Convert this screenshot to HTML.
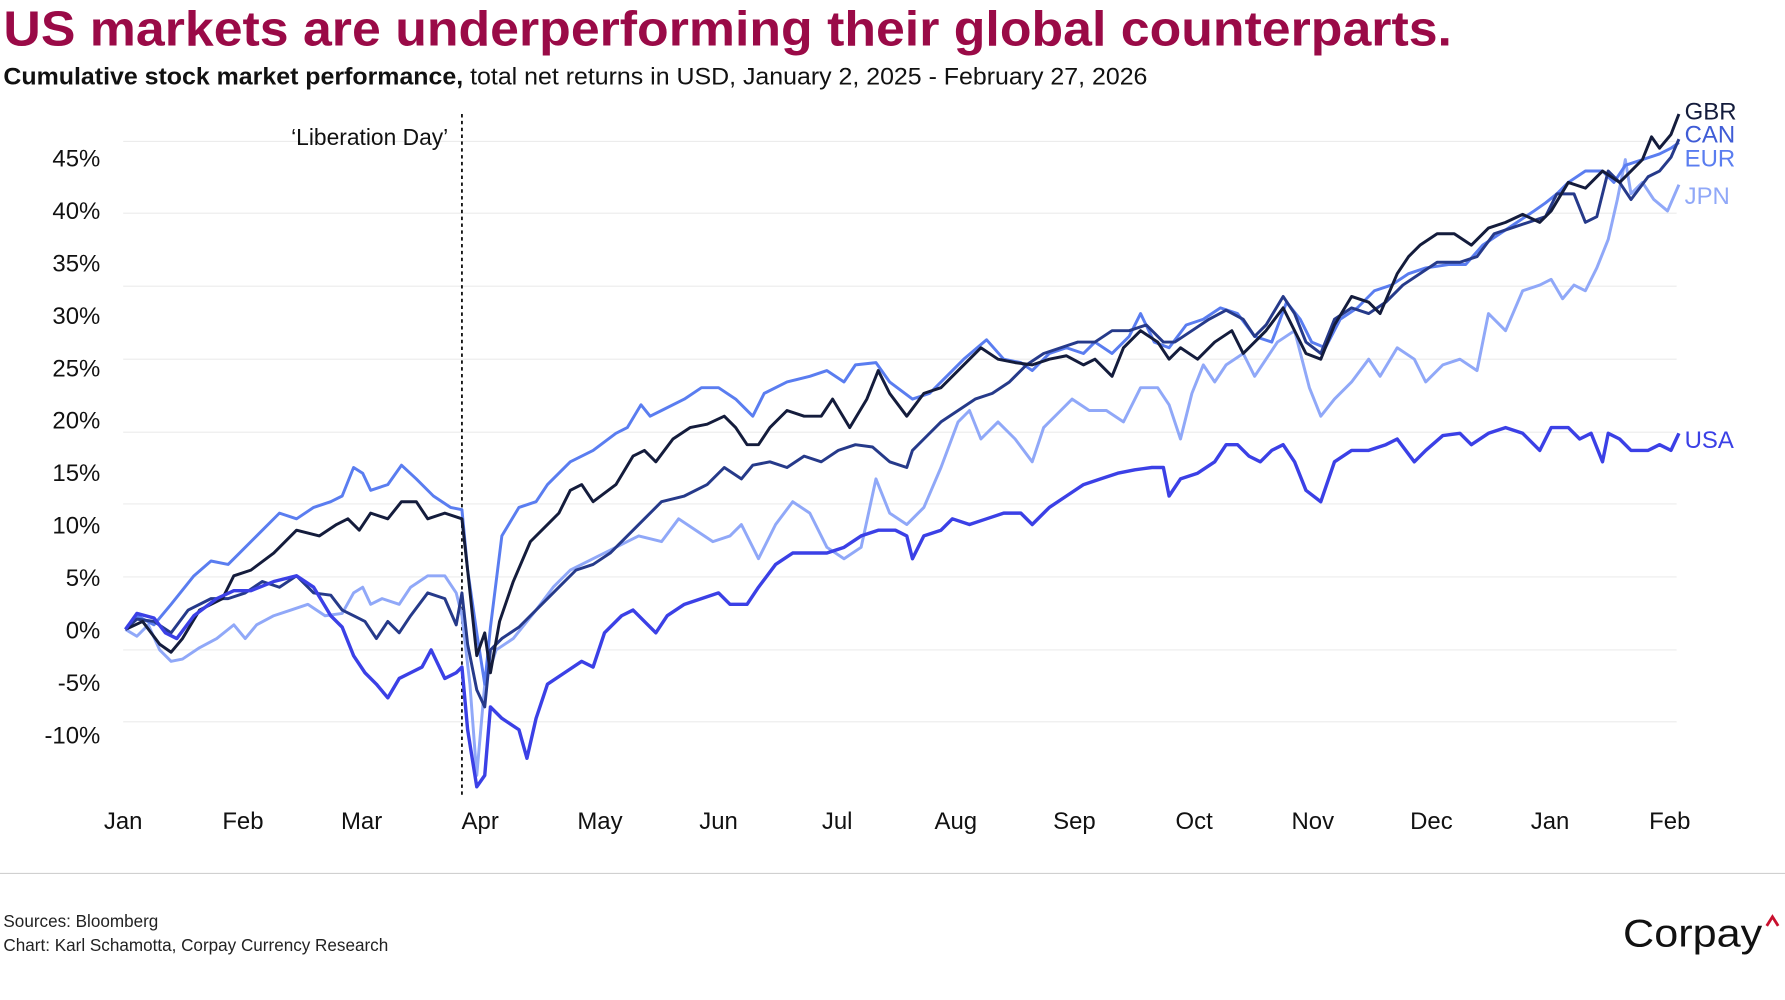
<!DOCTYPE html>
<html><head><meta charset="utf-8"><style>html,body{margin:0;padding:0;background:#fff}svg{display:block}</style></head>
<body>
<svg width="1785" height="1000" viewBox="0 0 1565 877" preserveAspectRatio="none" xmlns="http://www.w3.org/2000/svg" font-family="Liberation Sans, sans-serif">
<rect width="1565" height="877" fill="#fff"/>
<text x="3" y="40" font-size="43" font-weight="bold" fill="#9a0a47" textLength="1270" lengthAdjust="spacingAndGlyphs">US markets are underperforming their global counterparts.</text>
<text x="3" y="74" font-size="21" fill="#111" textLength="1003" lengthAdjust="spacingAndGlyphs"><tspan font-weight="bold">Cumulative stock market performance,</tspan> total net returns in USD, January 2, 2025 - February 27, 2026</text>
<g stroke="#ececec" stroke-width="1">
<line x1="108" x2="1470" y1="124" y2="124"/><line x1="108" x2="1470" y1="187" y2="187"/><line x1="108" x2="1470" y1="251" y2="251"/><line x1="108" x2="1470" y1="315" y2="315"/><line x1="108" x2="1470" y1="379" y2="379"/><line x1="108" x2="1470" y1="442" y2="442"/><line x1="108" x2="1470" y1="506" y2="506"/><line x1="108" x2="1470" y1="570" y2="570"/><line x1="108" x2="1470" y1="633" y2="633"/>
</g>
<g font-size="21" fill="#111" text-anchor="end">
<text x="88" y="146">45%</text><text x="88" y="192">40%</text><text x="88" y="238">35%</text><text x="88" y="284">30%</text><text x="88" y="330">25%</text><text x="88" y="376">20%</text><text x="88" y="422">15%</text><text x="88" y="468">10%</text><text x="88" y="514">5%</text><text x="88" y="560">0%</text><text x="88" y="606">-5%</text><text x="88" y="652">-10%</text>
</g>
<g font-size="21" fill="#111" text-anchor="middle">
<text x="108" y="727">Jan</text><text x="213" y="727">Feb</text><text x="317" y="727">Mar</text><text x="421" y="727">Apr</text><text x="526" y="727">May</text><text x="630" y="727">Jun</text><text x="734" y="727">Jul</text><text x="838" y="727">Aug</text><text x="942" y="727">Sep</text><text x="1047" y="727">Oct</text><text x="1151" y="727">Nov</text><text x="1255" y="727">Dec</text><text x="1359" y="727">Jan</text><text x="1464" y="727">Feb</text>
</g>
<line x1="405" x2="405" y1="100" y2="700" stroke="#111" stroke-width="1.6" stroke-dasharray="3,3"/>
<text x="393" y="127" font-size="20" fill="#111" text-anchor="end">‘Liberation Day’</text>
<g fill="none" stroke-width="2.6" stroke-linejoin="round">
<polyline stroke="#90a8f8" points="110,552 120,558 130,548 140,570 150,580 160,578 175,568 190,560 205,548 215,560 225,548 240,540 255,535 270,530 285,540 300,538 310,520 318,515 325,530 335,525 350,530 360,515 375,505 390,505 400,520 405,540 412,600 418,680 425,600 435,570 450,560 470,535 485,515 500,500 520,490 540,480 560,470 580,475 595,455 610,465 625,475 640,470 650,460 665,490 680,460 695,440 710,450 725,480 740,490 755,480 768,420 780,450 795,460 810,445 825,410 840,370 850,360 860,385 875,370 890,385 905,405 915,375 930,360 940,350 955,360 970,360 985,370 1000,340 1015,340 1025,355 1035,385 1045,345 1055,320 1065,335 1075,320 1090,310 1100,330 1110,315 1120,300 1135,290 1148,340 1158,365 1170,350 1185,335 1200,315 1210,330 1225,305 1240,315 1250,335 1265,320 1280,315 1295,325 1305,275 1320,290 1335,255 1350,250 1360,245 1370,262 1380,250 1390,255 1400,235 1410,210 1418,175 1425,140 1430,170 1440,160 1450,175 1462,185 1472,162"/>
<polyline stroke="#5a7df0" points="110,552 120,540 135,548 150,530 170,505 185,492 200,495 210,485 225,470 245,450 260,455 275,445 290,440 300,435 310,410 318,415 325,430 340,425 352,408 365,420 380,435 395,445 405,447 410,500 418,555 425,600 430,550 440,470 455,445 470,440 480,425 490,415 500,405 520,395 540,380 550,375 562,355 570,365 580,360 600,350 615,340 630,340 645,350 660,365 670,345 690,335 710,330 725,325 740,335 750,320 768,318 780,335 800,350 815,345 830,330 845,315 865,298 880,315 895,318 905,325 920,310 935,305 950,310 960,300 975,310 990,295 1000,275 1012,300 1025,305 1040,285 1055,280 1070,270 1085,275 1100,295 1115,300 1128,265 1140,280 1150,300 1162,305 1175,280 1190,270 1205,255 1220,250 1235,240 1250,235 1270,232 1285,232 1300,215 1315,205 1330,195 1345,185 1355,178 1365,170 1375,160 1390,150 1405,150 1415,160 1425,145 1440,140 1455,135 1465,130 1472,125"/>
<polyline stroke="#263a8a" points="110,552 120,543 135,545 150,555 165,535 185,525 200,525 215,520 230,510 245,515 260,505 275,520 290,522 300,535 310,540 320,545 330,560 340,545 350,555 360,540 375,520 390,525 400,548 405,520 410,565 418,605 425,620 430,570 440,560 455,550 470,535 490,515 505,500 520,495 535,485 550,470 565,455 580,440 600,435 620,425 635,410 650,420 660,408 675,405 690,410 705,400 720,405 735,395 750,390 765,392 780,405 795,410 800,395 810,385 825,370 840,360 855,350 870,345 885,335 900,320 915,310 930,305 945,300 960,300 975,290 990,290 1005,285 1020,300 1030,300 1045,290 1060,280 1075,272 1090,280 1100,295 1110,285 1125,260 1135,275 1145,300 1158,310 1170,280 1185,270 1200,275 1215,265 1230,250 1245,240 1260,230 1280,230 1295,225 1310,205 1325,200 1340,195 1355,190 1365,170 1380,170 1390,195 1400,190 1410,150 1420,160 1430,175 1445,155 1455,150 1465,138 1472,122"/>
<polyline stroke="#141c3c" points="110,552 125,545 140,565 150,572 160,560 175,535 195,525 205,505 220,500 240,485 260,465 280,470 295,460 305,455 315,465 325,450 340,455 352,440 365,440 375,455 390,450 405,455 410,500 418,575 425,555 430,590 438,545 450,510 465,475 480,460 490,450 500,430 510,425 520,440 540,425 555,400 565,395 575,405 590,385 605,375 620,372 635,365 645,375 655,390 665,390 675,375 690,360 705,365 720,365 730,350 745,375 760,350 770,325 780,345 795,365 810,345 825,340 840,325 860,305 875,315 890,318 905,320 920,315 935,312 950,320 960,315 975,330 985,305 1000,290 1015,300 1025,315 1035,305 1050,315 1065,300 1080,290 1090,310 1100,300 1110,290 1125,270 1135,290 1145,310 1158,315 1170,285 1185,260 1200,265 1210,275 1225,240 1235,225 1245,215 1260,205 1275,205 1290,215 1305,200 1320,195 1335,188 1350,195 1360,185 1375,160 1390,165 1405,150 1420,160 1430,150 1440,140 1448,120 1455,130 1465,118 1472,100"/>
<polyline stroke="#3b40e6" stroke-width="3" points="110,552 120,538 135,542 145,555 155,560 170,540 190,525 205,518 220,518 240,510 260,505 275,515 290,540 300,550 310,575 320,590 330,600 340,612 350,595 360,590 370,585 378,570 390,595 400,590 405,585 410,640 418,690 425,680 430,620 440,630 455,640 462,665 470,630 480,600 495,590 510,580 520,585 530,555 545,540 555,535 565,545 575,555 585,540 600,530 615,525 630,520 640,530 655,530 665,515 680,495 695,485 710,485 725,485 740,480 755,470 770,465 785,465 795,470 800,490 810,470 825,465 835,455 850,460 865,455 880,450 895,450 905,460 920,445 935,435 950,425 965,420 980,415 995,412 1010,410 1020,410 1025,435 1035,420 1050,415 1065,405 1075,390 1085,390 1095,400 1105,405 1115,395 1125,390 1135,405 1145,430 1158,440 1170,405 1185,395 1200,395 1215,390 1225,385 1240,405 1250,395 1265,382 1280,380 1290,390 1305,380 1320,375 1335,380 1350,395 1360,375 1375,375 1385,385 1395,380 1405,405 1410,380 1420,385 1430,395 1445,395 1455,390 1465,395 1472,380"/>
</g>
<g font-size="21">
<text x="1477" y="105" fill="#141c3c">GBR</text>
<text x="1477" y="125" fill="#3f5cd6">CAN</text>
<text x="1477" y="146" fill="#5a7df0">EUR</text>
<text x="1477" y="179" fill="#90a8f8">JPN</text>
<text x="1477" y="393" fill="#3b40e6">USA</text>
</g>
<line x1="0" x2="1565" y1="766" y2="766" stroke="#d0d0d0" stroke-width="1"/>
<text x="3" y="813" font-size="15" fill="#222">Sources: Bloomberg</text>
<text x="3" y="834" font-size="15" fill="#222">Chart: Karl Schamotta, Corpay Currency Research</text>
<text x="1423" y="830" font-size="34" fill="#111" textLength="122" lengthAdjust="spacingAndGlyphs">Corpay</text>
<polyline points="1549,812 1554,804 1559,812" fill="none" stroke="#c8102e" stroke-width="2.5"/>
</svg>
</body></html>
